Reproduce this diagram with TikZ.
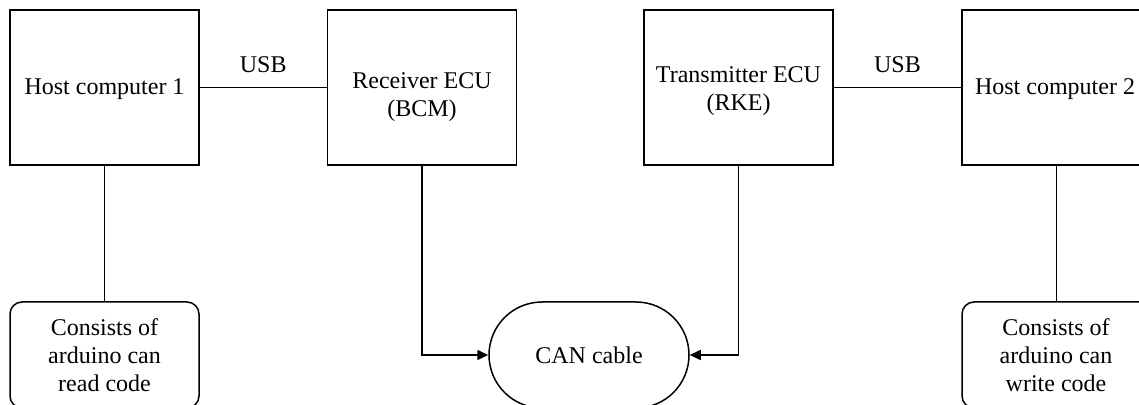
\documentclass[tikz,border=0pt]{standalone}
\usepackage{fontspec}
\setmainfont{Liberation Serif}
\newfontfamily\labelfont{Liberation Serif}
\usetikzlibrary{arrows.meta,shapes.misc}

\begin{document}
\begin{tikzpicture}[x=0.5pt,y=-0.5pt,
  every node/.style={font=\labelfont\fontsize{12}{14}\selectfont},
  unit/.style={draw, line width=0.75pt, minimum width=94.5pt, minimum height=77.5pt, inner sep=0pt},
  note/.style={draw, line width=0.75pt, rounded corners=6pt, minimum width=94.5pt, minimum height=53pt, inner sep=0pt},
  cable/.style={draw, line width=0.75pt, rounded rectangle, minimum width=100pt, minimum height=53pt, inner sep=0pt},
  txt/.style={align=center, inner sep=0pt},
  wire/.style={line width=0.75pt},
  feed/.style={line width=0.75pt, -{Triangle[length=5.5pt,width=5pt]}}
]
\useasboundingbox (0,0) rectangle (1139,405);

% main units
\node[unit] (h1) at (104.5,87.5) {};
\node[unit] (rx) at (422,87.5) {};
\node[unit] (tx) at (738.5,87.5) {};
\node[unit] (h2) at (1056.5,87.5) {};

\node[txt] (h1t) at (104.5,89) {Host computer 1};
\node[txt] (rxt) at (422,97) {Receiver ECU\\(BCM)};
\node[txt] (txt) at (738.5,91) {Transmitter ECU\\(RKE)};
\node[txt] (h2t) at (1055,89) {Host computer 2};

% notes under the host computers
\node[note] (n1) at (104.5,355) {};
\node[note] (n2) at (1056.5,355) {};
\node[txt] (n1t) at (104.5,355) {Consists of\\arduino can\\read code};
\node[txt] (n2t) at (1056,355) {Consists of\\arduino can\\write code};

% shared bus
\node[cable] (can) at (589,355) {CAN cable};

% USB links
\draw[wire] (h1.east) -- node[above=7pt, inner sep=0pt] (usb1) {USB} (rx.west);
\draw[wire] (tx.east) -- node[above=7pt, inner sep=0pt] (usb2) {USB} (h2.west);

% host to note
\draw[wire] (h1.south) -- (n1.north);
\draw[wire] (h2.south) -- (n2.north);

% ECUs onto the bus
\draw[feed] (rx.south) |- (can.west);
\draw[feed] (tx.south) |- (can.east);
\end{tikzpicture}
\end{document}
